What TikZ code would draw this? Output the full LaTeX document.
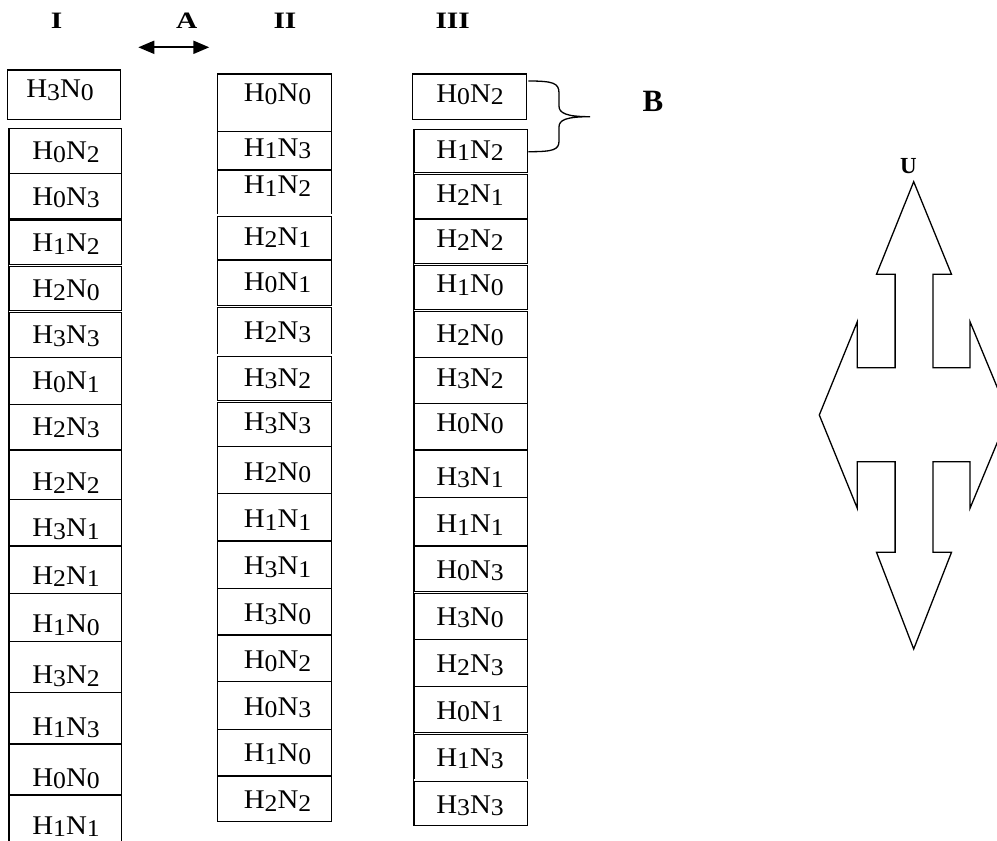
\documentclass[tikz,border=0pt]{standalone}
\usepackage{fontspec}
\setmainfont{Liberation Serif}
\newfontfamily\cellfont[FakeStretch=1.07]{Liberation Serif}
\newfontfamily\ttlfont[FakeStretch=1.25]{Liberation Serif}
\usetikzlibrary{arrows.meta}
\newcommand\sbd[1]{\raisebox{-2.8pt}{\fontsize{24}{25}\selectfont #1}}
\newcommand\hn[2]{H\sbd{#1}N\sbd{#2}}
\begin{document}
\begin{tikzpicture}[x=1pt,y=-1pt,
  cell/.style={anchor=base,inner sep=0pt,font=\cellfont\fontsize{27}{28}\selectfont},
  ttl/.style={anchor=base,inner sep=0pt,font=\ttlfont\fontsize{23.5}{25}\selectfont\bfseries},
  lbl/.style={anchor=base,inner sep=0pt,font=\fontsize{23}{25}\selectfont\bfseries},
  box/.style={draw,line width=1.3pt},
  sep/.style={line width=1.3pt},
  thk/.style={line width=2.6pt},
  dbl/.style={double,double distance=1.2pt,line width=0.9pt},
  fourarrow/.style={draw,line width=1.3pt,line join=miter},
]
\useasboundingbox (0,0) rectangle (997,841);

% titles
\node[ttl] (tI) at (56.7,28.3) {I};
\node[ttl] (tA) at (186.7,28.3) {A};
\node[ttl] (tII) at (285,28.3) {II};
\node[ttl] (tIII) at (452.7,28.3) {III};
\node[lbl,font=\fontsize{31}{33}\selectfont\bfseries] (tB) at (653,111.7) {B};
\node[lbl] (tU) at (908.3,173.3) {U};

% arrow A
\coordinate (aL) at (138.3,47.3);
\coordinate (aR) at (209.3,47.3);
\draw[line width=2pt,{Triangle[length=16pt,width=13pt]}-{Triangle[length=16pt,width=13pt]}] (aL) -- (aR);

% column I
\draw[box] (7.3,70) rectangle (120.7,119.3);
\node[cell] (I0) at (60,97.3) {\hn{3}{0}};
\draw[box] (9,841) -- (9,128.3) -- (121.7,128.3) -- (121.7,841);
\foreach \y in {173.3,357.7,404.3,450,499.3,546,593.3,641.7,692.7,744,795}
  \draw[sep] (9,\y) -- (121.7,\y);
\draw[thk] (9,219.3) -- (121.7,219.3);
\foreach \y in {265.7,311.7}
  \draw[dbl] (9,\y) -- (121.7,\y);
\foreach \b/\h/\n [count=\k] in {159.3/0/2,205/0/3,251.7/1/2,297.3/2/0,343.3/3/3,389.5/0/1,435/2/3,490.7/2/2,536.7/3/1,584/2/1,632.7/1/0,683.3/3/2,735/1/3,786/0/0,834/1/1}
  \node[cell] (I\k) at (66,\b) {\hn{\h}{\n}};

% column II
\draw[box] (217.3,74) rectangle (331.7,821.7);
\foreach \y in {131.7,170,260,446.7,493.3,541,588.3,635,681.7,729.3,776}
  \draw[sep] (217.3,\y) -- (331.7,\y);
\foreach \y in {215,306.7,355,401.7}
  \draw[dbl] (217.3,\y) -- (331.7,\y);
\foreach \b/\h/\n [count=\k] in {101.7/0/0,156/1/3,193.3/1/2,245/2/1,290/0/1,339.3/2/3,386/3/2,430.7/3/3,480/2/0,527.3/1/1,574.3/3/1,621.7/3/0,668.3/0/2,715/0/3,761.7/1/0,808.3/2/2}
  \node[cell] (II\k) at (277.5,\b) {\hn{\h}{\n}};

% column III
\draw[box] (412.7,74) rectangle (526.7,119.3);
\node[cell] (III0) at (470,102) {\hn{0}{2}};
\draw[box] (414,129.3) rectangle (527.7,825.7);
\foreach \y in {219,357.3,403.3,450,497.7,546,639.3,686.7}
  \draw[sep] (414,\y) -- (527.7,\y);
\foreach \y in {173.3,264.3,310.7,592.7,733.3,780}
  \draw[dbl] (414,\y) -- (527.7,\y);
\foreach \b/\h/\n [count=\k] in {158/1/2,202.7/2/1,247.7/2/2,292.7/1/0,342.7/2/0,386/3/2,431/0/0,485/3/1,532.7/1/1,578/0/3,625/3/0,672.7/2/3,719/0/1,766/1/3,813/3/3}
  \node[cell] (III\k) at (470,\b) {\hn{\h}{\n}};

% brace B
\coordinate (bT) at (528.3,81);
\coordinate (bM) at (590,116.7);
\coordinate (bD) at (528.3,151.7);
\draw[line width=1.3pt] (bT) .. controls (553,81) and (559,83) .. (559,93) -- (559,106)
  .. controls (559,113) and (566,116.7) .. (bM)
  .. controls (566,116.7) and (559,120) .. (559,127) -- (559,141)
  .. controls (559,150) and (553,151.7) .. (bD);

% four-way arrow U
\draw[fourarrow] (913.7,181.7) -- (951.5,274.3) -- (932.9,274.3) -- (932.9,367.7) -- (970,367.7) -- (970,321.7)
  -- (1008.7,415) -- (970,508.3) -- (970,461.7) -- (932.9,461.7) -- (932.9,552.3) -- (951.5,552.3)
  -- (913.7,649) -- (876.5,552.3) -- (895.1,552.3) -- (895.1,461.7) -- (857.3,461.7) -- (857.3,508.3)
  -- (819.3,415) -- (857.3,321.7) -- (857.3,367.7) -- (895.1,367.7) -- (895.1,274.3) -- (876.5,274.3) -- cycle;
\end{tikzpicture}
\end{document}
